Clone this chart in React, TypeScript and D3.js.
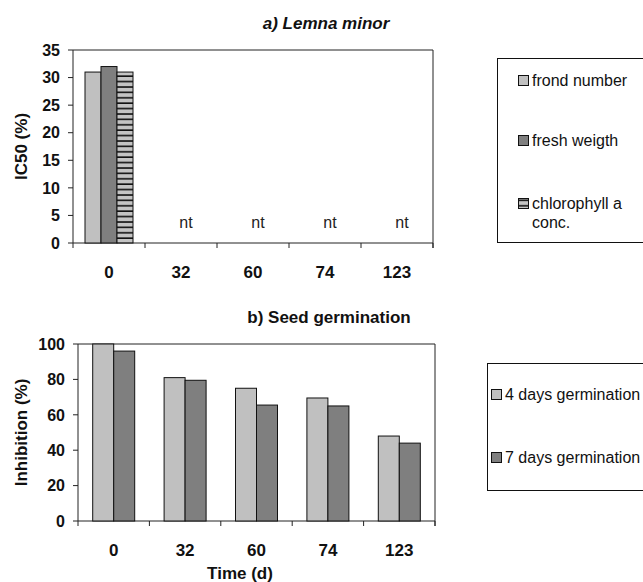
import React from "react";
import * as d3 from "d3";

// time points (days)
const days = ["0", "32", "60", "74", "123"];

// a) Lemna minor, IC50 (%) -- only measured at day 0, rest "nt"
const lemnaKeys = ["frond number", "fresh weigth", "chlorophyll a conc."];
const frondNumber = [31, null, null, null, null];
const freshWeigth = [32, null, null, null, null];
const chlorophyll = [31, null, null, null, null];
const lemnaTicks = [0, 5, 10, 15, 20, 25, 30, 35];

// b) Seed germination, inhibition (%)
const germKeys = ["4 days germination", "7 days germination"];
const germ4 = [100, 81, 75, 69.5, 48];
const germ7 = [96, 79.5, 65.5, 65, 44];
const germTicks = [0, 20, 40, 60, 80, 100];

const LIGHT = "#c0c0c0";
const DARK = "#7f7f7f";
const FONT = "'Liberation Sans', Arial, sans-serif";

const lemnaFills = [LIGHT, DARK, "url(#hstripe)"];
const germFills = [LIGHT, DARK];

type PanelProps = {
  left: number;
  right: number;
  top: number;
  bottom: number;
  yMax: number;
  ticks: number[];
  series: (number | null)[][];
  fills: string[];
  groupWidth: number;
  yLabel: string;
  yLabelX: number;
};

const Panel = ({ left, right, top, bottom, yMax, ticks, series, fills, groupWidth, yLabel, yLabelX }: PanelProps) => {
  const x = d3.scaleBand().domain(days).range([left, right]).padding(0);
  const bw = x.bandwidth();
  const sub = d3
    .scaleBand()
    .domain(series.map((_, i) => String(i)))
    .range([(bw - groupWidth) / 2, (bw + groupWidth) / 2]);
  const y = d3.scaleLinear().domain([0, yMax]).range([bottom, top]);
  const midY = (top + bottom) / 2;

  return (
    <g>
      {/* frame */}
      <line x1={left} x2={right} y1={top} y2={top} stroke="#222" />
      <line x1={right} x2={right} y1={top} y2={bottom + 5} stroke="#222" />
      <line x1={left} x2={left} y1={top} y2={bottom + 5} stroke="#222" />
      <line x1={left} x2={right} y1={bottom} y2={bottom} stroke="#222" />

      {/* y ticks */}
      {ticks.map(t => (
        <g key={t}>
          <line x1={left - 5} x2={left} y1={y(t)} y2={y(t)} stroke="#222" />
          <text
            x={left - 13}
            y={y(t)}
            dy="0.36em"
            textAnchor="end"
            fontSize={16}
            fontWeight="bold"
            fill="#111"
          >
            {t}
          </text>
        </g>
      ))}

      {/* x ticks at category borders */}
      {days.map(d => (
        <line
          key={"t" + d}
          x1={(x(d) as number) + bw}
          x2={(x(d) as number) + bw}
          y1={bottom}
          y2={bottom + 5}
          stroke="#222"
        />
      ))}
      {days.map(d => (
        <text
          key={"l" + d}
          x={(x(d) as number) + bw / 2}
          y={bottom + 35}
          textAnchor="middle"
          fontSize={17}
          fontWeight="bold"
          fill="#111"
        >
          {d}
        </text>
      ))}

      {/* bars */}
      {series.map((vals, si) =>
        vals.map((v, di) =>
          v == null ? null : (
            <rect
              key={si + "-" + di}
              x={(x(days[di]) as number) + (sub(String(si)) as number)}
              y={y(v)}
              width={sub.bandwidth()}
              height={bottom - y(v)}
              fill={fills[si]}
              stroke="#111"
              strokeWidth={1}
            />
          )
        )
      )}

      <text
        transform={`translate(${yLabelX},${midY}) rotate(-90)`}
        textAnchor="middle"
        fontSize={17}
        fontWeight="bold"
        fill="#111"
      >
        {yLabel}
      </text>
    </g>
  );
};

const App = () => {
  const W = 643;
  const H = 582;

  // top panel geometry
  const aLeft = 73, aRight = 433, aTop = 50, aBottom = 243;
  const xa = d3.scaleBand().domain(days).range([aLeft, aRight]);
  const ya = d3.scaleLinear().domain([0, 35]).range([aBottom, aTop]);

  // bottom panel geometry
  const bLeft = 78, bRight = 435, bTop = 344, bBottom = 521;

  return (
    <svg
      width={W}
      height={H}
      style={{ position: "absolute", left: 0, top: 0, background: "#fff" }}
      fontFamily={FONT}
    >
      <defs>
        <pattern id="hstripe" width={6} height={5.4} patternUnits="userSpaceOnUse" y={aTop}>
          <rect width={6} height={5.4} fill="#c4c4c4" />
          <rect y={3.8} width={6} height={1.6} fill="#111" />
        </pattern>
      </defs>
      <rect width={W} height={H} fill="#fff" />

      {/* a) Lemna minor */}
      <text x={326} y={29} textAnchor="middle" fontSize={17} fontWeight="bold" fontStyle="italic" fill="#111">
        a) Lemna minor
      </text>
      <Panel
        left={aLeft}
        right={aRight}
        top={aTop}
        bottom={aBottom}
        yMax={35}
        ticks={lemnaTicks}
        series={[frondNumber, freshWeigth, chlorophyll]}
        fills={lemnaFills}
        groupWidth={48}
        yLabel="IC50 (%)"
        yLabelX={27}
      />
      {days.map((d, i) =>
        frondNumber[i] == null ? (
          <text
            key={"nt" + d}
            x={(xa(d) as number) + xa.bandwidth() / 2 + 5}
            y={ya(0) - 15}
            textAnchor="middle"
            fontSize={16}
            fill="#222"
          >
            nt
          </text>
        ) : null
      )}

      {/* legend a */}
      <rect x={497.5} y={58.5} width={160} height={184} fill="#fff" stroke="#111" />
      {lemnaKeys.map((k, i) => {
        const by = [86, 146, 209][i];
        return (
          <g key={k}>
            <rect x={518.5} y={by - 10.5} width={10} height={10} fill={lemnaFills[i]} stroke="#111" />
            {i === 2 ? (
              <text x={532} y={by} fontSize={16} fill="#111">
                <tspan x={532}>chlorophyll a</tspan>
                <tspan x={532} y={by + 19}>conc.</tspan>
              </text>
            ) : (
              <text x={532} y={by} fontSize={16} fill="#111">
                {k}
              </text>
            )}
          </g>
        );
      })}

      {/* b) Seed germination */}
      <text x={329} y={323} textAnchor="middle" fontSize={17} fontWeight="bold" fill="#111">
        b) Seed germination
      </text>
      <Panel
        left={bLeft}
        right={bRight}
        top={bTop}
        bottom={bBottom}
        yMax={100}
        ticks={germTicks}
        series={[germ4, germ7]}
        fills={germFills}
        groupWidth={42}
        yLabel="Inhibition (%)"
        yLabelX={27}
      />
      <text x={240} y={579} textAnchor="middle" fontSize={17} fontWeight="bold" fill="#111">
        Time (d)
      </text>

      {/* legend b */}
      <rect x={487.5} y={363.5} width={170} height={127} fill="#fff" stroke="#111" />
      {germKeys.map((k, i) => {
        const by = [400, 463][i];
        return (
          <g key={k}>
            <rect x={491.5} y={by - 10.5} width={10} height={10} fill={germFills[i]} stroke="#111" />
            <text x={505} y={by} fontSize={16} fill="#111">
              {k}
            </text>
          </g>
        );
      })}
    </svg>
  );
};

export default App;
